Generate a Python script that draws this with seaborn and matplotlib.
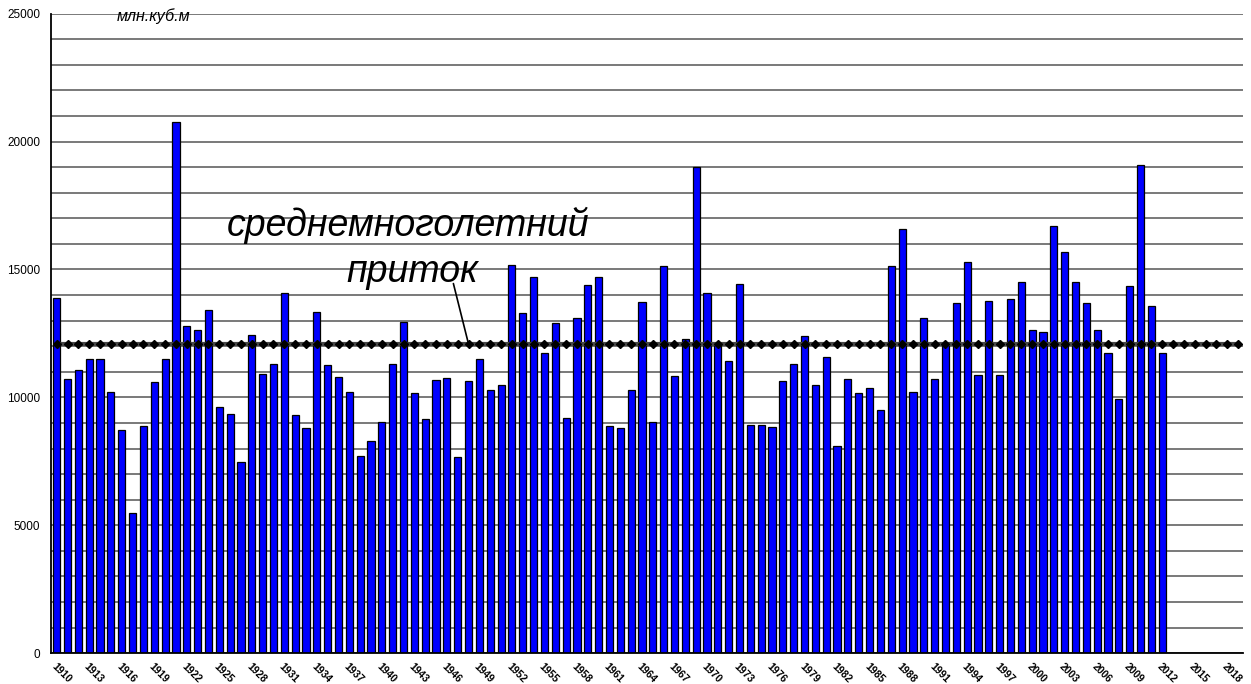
import numpy as np
import pandas as pd
import matplotlib
matplotlib.use('Agg')
import matplotlib.pyplot as plt
from matplotlib.ticker import MultipleLocator
import seaborn as sns

# annual inflow, mln m3, 1910-2012
years = list(range(1910, 2013))
inflow = [
    13880, 10710, 11060, 11490, 11520, 10220, 8730, 5480, 8900, 10600,
    11490, 20780, 12780, 12640, 13420, 9620, 9370, 7490, 12430, 10910,
    11300, 14070, 9320, 8800, 13330, 11260, 10810, 10200, 7700, 8310,
    9040, 11300, 12930, 10170, 9150, 10680, 10740, 7660, 10640, 11490,
    10270, 10490, 15190, 13310, 14700, 11720, 12920, 9190, 13120, 14390,
    14700, 8870, 8810, 10270, 13720, 9040, 15150, 10850, 12270, 19020,
    14070, 12080, 11410, 14420, 8910, 8940, 8860, 10640, 11320, 12400,
    10490, 11580, 8090, 10710, 10170, 10350, 9510, 15150, 16570, 10200,
    13110, 10710, 12080, 13680, 15290, 10890, 13770, 10860, 13840, 14500,
    12640, 12570, 16710, 15700, 14500, 13700, 12640, 11740, 9940, 14350,
    19070, 13560, 11740,
]
axis_years = list(range(1910, 2020))
mean_inflow = 12080
label_years = axis_years[::3]

sns.set_style('white')
plt.rcParams['font.family'] = ['Liberation Sans', 'DejaVu Sans']
plt.rcParams['text.color'] = 'black'
plt.rcParams['xtick.color'] = 'black'
plt.rcParams['ytick.color'] = 'black'

df = pd.DataFrame({'year': years, 'inflow': inflow})

fig = plt.figure(figsize=(12.51, 6.84), dpi=100)
ax = fig.add_axes([0.041, 0.045, 0.953, 0.935])

sns.barplot(data=df, x='year', y='inflow', order=axis_years, color='#0000ff',
            saturation=1, width=0.66, edgecolor='black', linewidth=0.9, ax=ax, zorder=2)

# long-term mean line
pos = np.arange(len(axis_years))
ax.plot(pos, [mean_inflow] * len(axis_years), color='#474747', linewidth=3.0,
        marker='D', markersize=4.5, markerfacecolor='black', markeredgecolor='black', zorder=3)

ax.set_xlim(-0.5, len(axis_years) - 0.5)
ax.set_ylim(0, 25000)
ax.yaxis.set_major_locator(MultipleLocator(5000))
ax.yaxis.set_minor_locator(MultipleLocator(1000))
ax.grid(True, axis='y', which='both', color='#555555', linewidth=1.1, zorder=0)
ax.set_axisbelow(True)

ax.set_xticks([axis_years.index(y) for y in label_years])
ax.set_xticklabels([str(y) for y in label_years], rotation=-45, ha='left',
                   rotation_mode='anchor', fontsize=7.5, fontweight='bold')
ax.set_xticks(np.arange(-0.5, len(axis_years), 1.0), minor=True)
ax.tick_params(axis='x', which='major', length=0, pad=6)
ax.tick_params(axis='x', which='minor', length=5, width=1, color='black', direction='out')
ax.tick_params(axis='y', which='major', length=4, width=1, color='black',
               direction='out', labelsize=8.5, pad=4)
ax.tick_params(axis='y', which='minor', length=0)

for s in ['top', 'right']:
    ax.spines[s].set_visible(False)
for s in ['left', 'bottom']:
    ax.spines[s].set_color('black')
    ax.spines[s].set_linewidth(1.3)

ax.set_xlabel('')
ax.set_ylabel('')

ax.text(0.055, 1.008, 'млн.куб.м', transform=ax.transAxes, style='italic',
        fontsize=11.5, ha='left', va='top')

ax.text(32.4, 16300, 'среднемноголетний', ha='center', va='baseline',
        style='italic', fontsize=27)
ax.text(32.8, 14500, 'приток', ha='center', va='baseline',
        style='italic', fontsize=27)
ax.annotate('', xy=(axis_years.index(1948), mean_inflow), xytext=(36.6, 14450),
            arrowprops=dict(arrowstyle='-', color='black', linewidth=1.2,
                            shrinkA=0, shrinkB=0))

fig.savefig('out.png', dpi=100)
